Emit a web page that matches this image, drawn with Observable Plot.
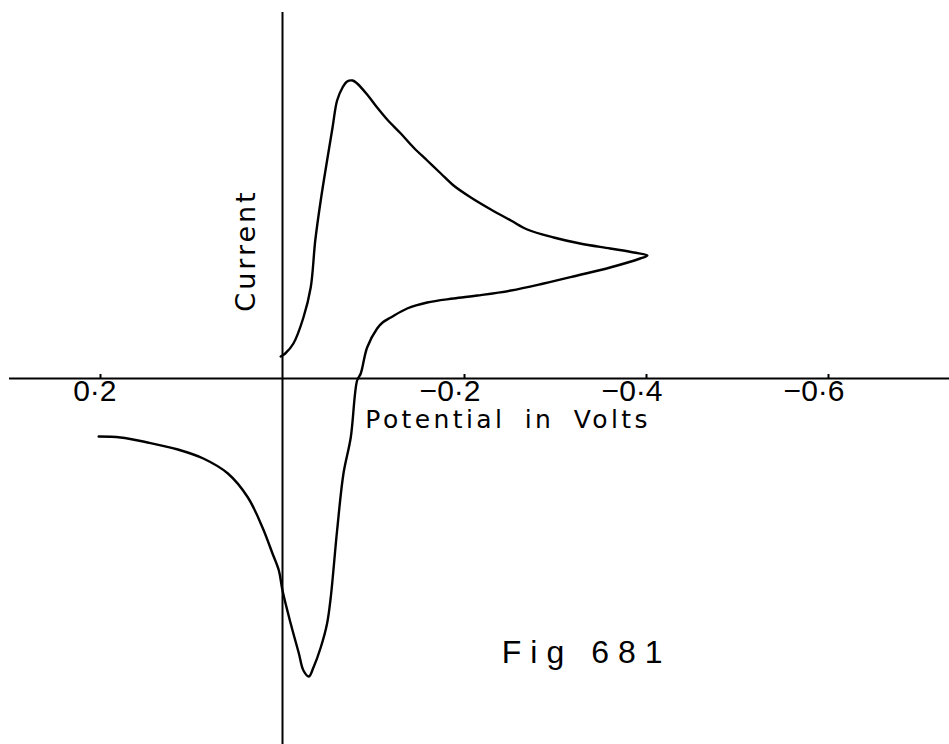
<!DOCTYPE html>
<html>
<head>
<meta charset="utf-8">
<script src="https://cdn.jsdelivr.net/npm/d3@7"></script>
<script src="https://cdn.jsdelivr.net/npm/@observablehq/plot@0.6"></script>
<style>
  html, body { margin: 0; padding: 0; background: #fff; }
  #chart svg { display: block; }
</style>
</head>
<body>
<div id="chart"></div>
<script>
// Cyclic voltammogram: potential (V) against current (arbitrary units)
const potential = [
  0.002, -0.003, -0.012, -0.023, -0.031, -0.036, -0.042, -0.049, -0.055, -0.060,
  -0.066, -0.071, -0.077, -0.082, -0.093, -0.104, -0.115, -0.130, -0.144, -0.159,
  -0.174, -0.188, -0.207, -0.229, -0.251, -0.269, -0.298, -0.327, -0.360, -0.386,
  -0.401, -0.393, -0.360, -0.324, -0.287, -0.251, -0.214, -0.188, -0.159, -0.137,
  -0.119, -0.110, -0.104, -0.093, -0.086, -0.082, -0.075, -0.067, -0.060, -0.053, -0.049,
  -0.042, -0.034, -0.029, -0.023, -0.018, -0.009, 0.000, 0.004, 0.011, 0.022,
  0.038, 0.060, 0.087, 0.115, 0.148, 0.178, 0.202
];
const current = [
  0.22, 0.25, 0.35, 0.61, 0.91, 1.38, 1.78, 2.18, 2.51, 2.78,
  2.91, 2.97, 2.98, 2.95, 2.84, 2.71, 2.59, 2.45, 2.31, 2.18,
  2.05, 1.93, 1.81, 1.69, 1.58, 1.49, 1.41, 1.35, 1.30, 1.26,
  1.23, 1.20, 1.11, 1.03, 0.95, 0.88, 0.83, 0.80, 0.76, 0.70,
  0.61, 0.56, 0.50, 0.31, 0.05, -0.02, -0.59, -0.95, -1.52, -2.19, -2.45,
  -2.69, -2.89, -2.98, -2.92, -2.75, -2.45, -2.12, -1.92, -1.75, -1.49,
  -1.19, -0.95, -0.80, -0.71, -0.64, -0.59, -0.58
];

const tickValues = [0.2, -0.2, -0.4, -0.6];
const tickLabels = ["0·2", "−0·2", "−0·4", "−0·6"];

const xTitle = "Potential in Volts";
const yTitle = "Current";
const figLabel = "Fig 681";

const sweep = potential.map((v, i) => ({potential: v, current: current[i]}));

const chart = Plot.plot({
  width: 949,
  height: 744,
  margin: 0,
  style: {background: "#fff", color: "#000"},
  x: {domain: [0.2, -0.6], range: [100, 828], axis: null},
  y: {domain: [-3.66, 3.78], range: [744, 0], axis: null},
  marks: [
    // hand-drawn style axes crossing at the origin
    Plot.ruleY([0], {x1: 0.3, x2: -0.75, stroke: "#000", strokeWidth: 2}),
    Plot.ruleX([0], {y1: 3.66, y2: -3.7, stroke: "#000", strokeWidth: 2}),
    Plot.ruleX(tickValues, {y1: 0, y2: 0.04, stroke: "#000", strokeWidth: 2}),
    Plot.line(sweep, {
      x: "potential", y: "current",
      curve: "catmull-rom", stroke: "#000", strokeWidth: 2.4
    }),
    Plot.text(tickValues, {
      x: d => d, y: -0.13,
      text: (d, i) => tickLabels[i],
      textAnchor: "end", dx: 16,
      fontSize: 30, fontFamily: "Liberation Sans, sans-serif", fill: "#000"
    }),
    Plot.text([xTitle], {
      x: -0.091, y: -0.41, text: d => d,
      textAnchor: "start", fontSize: 25,
      fontFamily: "DejaVu Sans, sans-serif", fill: "#000"
    }),
    Plot.text([yTitle], {
      x: 0.040, y: 1.28, text: d => d, rotate: -90,
      fontSize: 27, fontFamily: "DejaVu Sans, sans-serif", fill: "#000"
    }),
    Plot.text([figLabel], {
      x: -0.4275, y: -2.74, text: d => d,
      textAnchor: "end", fontSize: 32,
      fontFamily: "Liberation Sans, sans-serif", fill: "#000"
    })
  ]
});

d3.select(chart).selectAll("text")
  .filter(function () { return this.textContent === xTitle; })
  .style("letter-spacing", "3.4px").style("word-spacing", "8px");
d3.select(chart).selectAll("text")
  .filter(function () { return this.textContent === yTitle; })
  .style("letter-spacing", "3px");
d3.select(chart).selectAll("text")
  .filter(function () { return this.textContent === figLabel; })
  .style("letter-spacing", "9px");

document.getElementById("chart").append(chart);
</script>
</body>
</html>
